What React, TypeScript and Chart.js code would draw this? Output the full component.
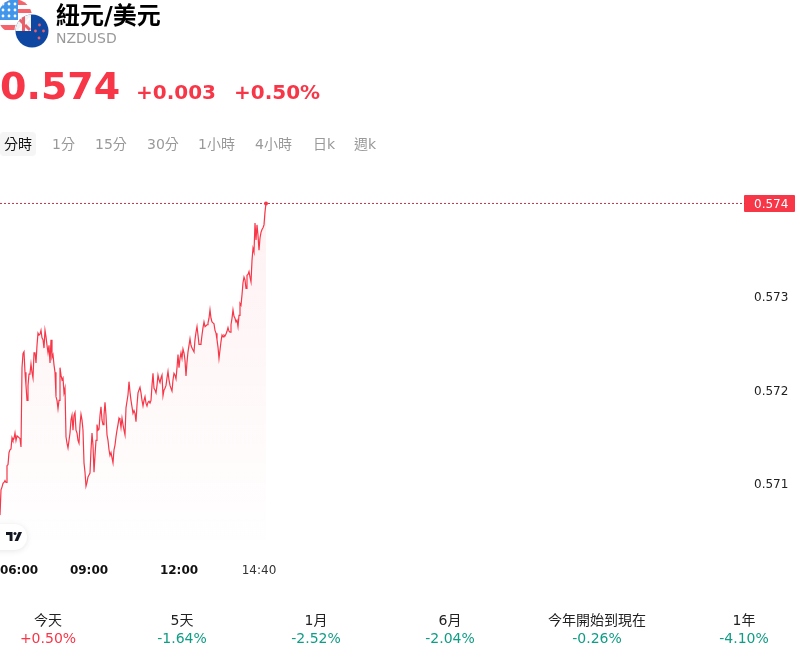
import React, { useEffect, useRef } from "react";
import Chart from "chart.js/auto";

const FONT = '"DejaVu Sans", "Noto Sans CJK TC", sans-serif';
const RED = "#f73648";
const GREEN = "#0f9d85";

const prices = [
  0.57066, 0.57093, 0.57096, 0.571, 0.57101, 0.57103, 0.57101, 0.57119, 0.5712, 0.57133, 0.57136, 0.57137, 0.57149, 0.57146, 0.57148, 0.57154,
  0.57146, 0.57151, 0.5715, 0.57149, 0.57148, 0.57139, 0.57224, 0.57239, 0.57241, 0.57219, 0.57205, 0.57189, 0.57205, 0.57217, 0.57218, 0.57228,
  0.57219, 0.57213, 0.5724, 0.5724, 0.57229, 0.57248, 0.57261, 0.57259, 0.5726, 0.57264, 0.57256, 0.57254, 0.57245, 0.57264, 0.57257, 0.57248,
  0.5724, 0.57248, 0.57229, 0.57254, 0.57235, 0.57238, 0.57227, 0.57219, 0.57193, 0.57189, 0.5718, 0.57189, 0.57224, 0.57216, 0.57211, 0.57213,
  0.57197, 0.57202, 0.5715, 0.57143, 0.57138, 0.57146, 0.57154, 0.57168, 0.57173, 0.57157, 0.57173, 0.57176, 0.57157, 0.57154, 0.57146, 0.57143,
  0.57163, 0.57174, 0.57168, 0.57157, 0.57122, 0.57112, 0.57097, 0.57101, 0.57107, 0.57109, 0.57111, 0.57136, 0.57154, 0.57141, 0.57112, 0.5713,
  0.57146, 0.57163, 0.57157, 0.57158, 0.57173, 0.57182, 0.57168, 0.57163, 0.57173, 0.57187, 0.57173, 0.57152, 0.57146, 0.57136, 0.5713, 0.57133,
  0.57133, 0.57122, 0.57136, 0.57141, 0.5715, 0.57157, 0.57163, 0.5717, 0.57168, 0.5716, 0.5717, 0.57163, 0.57157, 0.57152, 0.57181, 0.57181,
  0.57195, 0.57209, 0.57198, 0.57189, 0.57182, 0.57175, 0.57178, 0.57175, 0.57166, 0.57184, 0.57197, 0.572, 0.57203, 0.57197, 0.57189, 0.57183,
  0.57189, 0.57193, 0.57186, 0.57183, 0.57187, 0.57188, 0.57186, 0.57189, 0.57205, 0.57218, 0.57202, 0.572, 0.57197, 0.57205, 0.57216, 0.57211,
  0.57208, 0.57213, 0.57216, 0.57194, 0.572, 0.57202, 0.57205, 0.57213, 0.5722, 0.57211, 0.57205, 0.57202, 0.57199, 0.57211, 0.57218, 0.57216,
  0.57212, 0.57224, 0.57238, 0.57224, 0.57234, 0.5724, 0.57234, 0.57244, 0.5724, 0.57232, 0.57215, 0.5723, 0.57241, 0.57248, 0.57255, 0.57248,
  0.57245, 0.57243, 0.57241, 0.57254, 0.57262, 0.57268, 0.57259, 0.57249, 0.57249, 0.5725, 0.57259, 0.57267, 0.57273, 0.57268, 0.57269, 0.5727,
  0.57272, 0.57277, 0.57286, 0.57277, 0.57273, 0.57272, 0.57271, 0.57264, 0.57261, 0.57254, 0.57246, 0.57234, 0.57243, 0.57252, 0.57259, 0.57257,
  0.57259, 0.57258, 0.5726, 0.57263, 0.57267, 0.57263, 0.57262, 0.5727, 0.57277, 0.57286, 0.57279, 0.57277, 0.57273, 0.57275, 0.57268, 0.5728,
  0.57293, 0.57291, 0.57302, 0.57315, 0.57321, 0.57318, 0.57309, 0.57323, 0.57324, 0.57327, 0.57321, 0.57316, 0.57339, 0.57352, 0.57348, 0.57379,
  0.57361, 0.57377, 0.57366, 0.5735, 0.57363, 0.57369, 0.57372, 0.57374, 0.57377, 0.57391, 0.574,
];
const startMinute = 362;
const stepMinutes = 2;
const lastPrice = 0.574;
const priceTicks = [0.571, 0.572, 0.573, 0.574];
const timeTickPlaces = [400, 540, 720, 880];
const timeTickLabels = ["06:00", "09:00", "12:00", "14:40"];
const timeTickBold = [true, true, true, false];

const tabs = ["分時", "1分", "15分", "30分", "1小時", "4小時", "日k", "週k"];
const tabLefts = [4, 52, 95, 147, 198, 255, 313, 354];
const periodNames = ["今天", "5天", "1月", "6月", "今年開始到現在", "1年"];
const periodChanges = ["+0.50%", "-1.64%", "-2.52%", "-2.04%", "-0.26%", "-4.10%"];
const periodCenters = [48, 182, 316, 450, 597, 744];

const badgePlugin = {
  id: "priceBadge",
  beforeDraw(chart: any) {
    const y = chart.scales.y.getPixelForValue(lastPrice);
    const c = chart.ctx;
    c.save();
    c.fillStyle = RED;
    c.beginPath();
    c.roundRect(744, Math.round(y) - 8, 51, 17, 1);
    c.fill();
    c.restore();
  },
};

function Flags() {
  return (
    <svg width="50" height="50" viewBox="0 0 50 50" style={{ position: "absolute", left: 0, top: 0 }}>
      <defs>
        <clipPath id="us"><circle cx="15" cy="16.5" r="17" /></clipPath>
        <clipPath id="nz"><circle cx="32" cy="31" r="16.5" /></clipPath>
      </defs>
      <g clipPath="url(#us)">
        <rect x="-2" y="-1" width="36" height="36" fill="#fff" />
        <rect x="-2" y="0" width="36" height="5" fill="#f4646a" />
        <rect x="-2" y="9" width="36" height="4" fill="#f4646a" />
        <rect x="-2" y="25" width="36" height="5" fill="#f4646a" />
        <rect x="-2" y="-1" width="20" height="21" fill="#3f96ea" />
        {[4, 10, 16].map((y) =>
          [3, 9, 15].map((x) => <circle key={x + "-" + y} cx={x} cy={y} r="1.4" fill="#fff" />)
        )}
      </g>
      <circle cx="32" cy="31" r="17.5" fill="#fff" />
      <g clipPath="url(#nz)">
        <rect x="15" y="14" width="34" height="34" fill="#0d47a1" />
        <rect x="15" y="14" width="16" height="17" fill="#f3f3f3" />
        <path d="M17 17 L30 30" stroke="#e8606a" strokeWidth="3" />
        <path d="M19 30 L30 18" stroke="#fff" strokeWidth="2" />
        <rect x="22" y="14" width="3" height="17" fill="#e8606a" />
      </g>
      <circle cx="39.5" cy="25" r="1.4" fill="#e8606a" />
      <circle cx="43.5" cy="31" r="1.4" fill="#e8606a" />
      <circle cx="35.5" cy="31" r="1.4" fill="#e8606a" />
      <circle cx="39" cy="38" r="1.4" fill="#e8606a" />
    </svg>
  );
}

function Watermark() {
  return (
    <div style={{ position: "absolute", left: -12, top: 524, width: 39, height: 26, borderRadius: 13, background: "#fff", boxShadow: "0 1px 6px rgba(0,0,0,0.10)" }}>
      <svg width="16" height="9" viewBox="0 0 16 9" style={{ position: "absolute", left: 18, top: 8 }}>
        <path d="M0 0H6.5V9H3.6V3H0Z" fill="#131722" />
        <circle cx="9" cy="1.5" r="1.5" fill="#131722" />
        <path d="M12.5 0H16L12 9H8.6Z" fill="#131722" />
      </svg>
    </div>
  );
}

const abs = (left: number, top: number, extra: any = {}): any => ({ position: "absolute", left, top, whiteSpace: "nowrap", ...extra });

export default function App() {
  const ref = useRef<HTMLCanvasElement | null>(null);
  useEffect(() => {
    if (!ref.current) return;
    const chart = new Chart(ref.current, {
      type: "line",
      data: {
        datasets: [
          {
            data: prices.map((p, i) => ({ x: startMinute + i * stepMinutes, y: p })),
            borderColor: RED,
            borderWidth: 1.2,
            tension: 0,
            pointRadius: (c: any) => (c.dataIndex === prices.length - 1 ? 2 : 0),
            pointBackgroundColor: RED,
            pointBorderWidth: 0,
            fill: "start",
            backgroundColor: (c: any) => {
              const area = c.chart.chartArea;
              if (!area) return "transparent";
              const g = c.chart.ctx.createLinearGradient(0, c.chart.scales.y.getPixelForValue(lastPrice), 0, area.bottom);
              g.addColorStop(0, "rgba(247,54,72,0.07)");
              g.addColorStop(1, "rgba(247,54,72,0)");
              return g;
            },
          },
          {
            data: [
              { x: startMinute, y: lastPrice },
              { x: startMinute + 1490, y: lastPrice },
            ],
            borderColor: "#c2364a",
            borderWidth: 1,
            borderDash: [2, 2],
            pointRadius: 0,
            fill: false,
          },
        ],
      } as any,
      plugins: [badgePlugin],
      options: {
        animation: false,
        responsive: false,
        events: [],
        layout: { autoPadding: false, padding: { top: 5, left: 0, right: 0, bottom: 0 } },
        plugins: { legend: { display: false }, tooltip: { enabled: false } },
        scales: {
          x: {
            type: "linear",
            min: startMinute,
            max: startMinute + 1490,
            grid: { display: false, tickLength: 0 },
            border: { display: false },
            afterBuildTicks: (axis: any) => {
              axis.ticks = timeTickPlaces.map((value) => ({ value }));
            },
            afterFit: (axis: any) => {
              axis.height = 40;
              axis.paddingLeft = 0;
              axis.paddingRight = 0;
            },
            ticks: {
              autoSkip: false,
              maxRotation: 0,
              padding: 14,
              callback: (_v: any, i: number) => timeTickLabels[i],
              color: (c: any) => (timeTickBold[c.index] ? "#111" : "#333"),
              font: (c: any) => ({ family: FONT, size: 12, weight: timeTickBold[c.index] ? "bold" : "normal" }),
            },
          },
          y: {
            type: "linear",
            position: "right",
            min: 0.570286,
            max: 0.574305,
            grid: { display: false, tickLength: 0 },
            border: { display: false },
            afterBuildTicks: (axis: any) => {
              axis.ticks = priceTicks.map((value) => ({ value }));
            },
            afterFit: (axis: any) => {
              axis.width = 55;
              axis.paddingTop = 0;
              axis.paddingBottom = 0;
            },
            ticks: {
              autoSkip: false,
              padding: 9,
              labelOffset: 1.5,
              crossAlign: "near",
              callback: (v: any) => Number(v).toFixed(3),
              color: (c: any) => (c.tick.value === lastPrice ? "#fff" : "#222"),
              font: { family: FONT, size: 12 },
            },
          },
        },
      },
    } as any);
    return () => chart.destroy();
  }, []);

  return (
    <div style={{ position: "absolute", left: 0, top: 0, width: 800, height: 658, overflow: "hidden", fontFamily: FONT, willChange: "transform" }}>
      <Flags />
      <div style={abs(56, 1, { fontSize: 24, fontWeight: 700, lineHeight: "30px", color: "#000" })}>紐元/美元</div>
      <div style={abs(56, 29, { fontSize: 14, lineHeight: "18px", color: "#999" })}>NZDUSD</div>
      <div style={abs(0, 63, { fontSize: 38, fontWeight: 700, lineHeight: "46px", color: RED })}>0.574</div>
      <div style={abs(136, 79, { fontSize: 20, fontWeight: 700, lineHeight: "26px", color: RED })}>+0.003</div>
      <div style={abs(234, 79, { fontSize: 20, fontWeight: 700, lineHeight: "26px", color: RED })}>+0.50%</div>
      <div style={abs(0, 132, { width: 36, height: 24, borderRadius: 4, background: "#f5f5f5" })} />
      {tabs.map((t, i) => (
        <div key={t} style={abs(tabLefts[i], 135, { fontSize: 14, lineHeight: "18px", color: i === 0 ? "#111" : "#999" })}>{t}</div>
      ))}
      <canvas ref={ref} width={800} height={420} style={{ position: "absolute", left: 0, top: 170, display: "block", width: 800, height: 420 }} />
      <Watermark />
      {periodNames.map((n, i) => (
        <React.Fragment key={n}>
          <div style={abs(periodCenters[i], 611, { transform: "translateX(-50%)", fontSize: 14, lineHeight: "18px", color: "#222" })}>{n}</div>
          <div style={abs(periodCenters[i], 629, { transform: "translateX(-50%)", fontSize: 14, lineHeight: "18px", color: periodChanges[i].startsWith("+") ? RED : GREEN })}>{periodChanges[i]}</div>
        </React.Fragment>
      ))}
    </div>
  );
}
